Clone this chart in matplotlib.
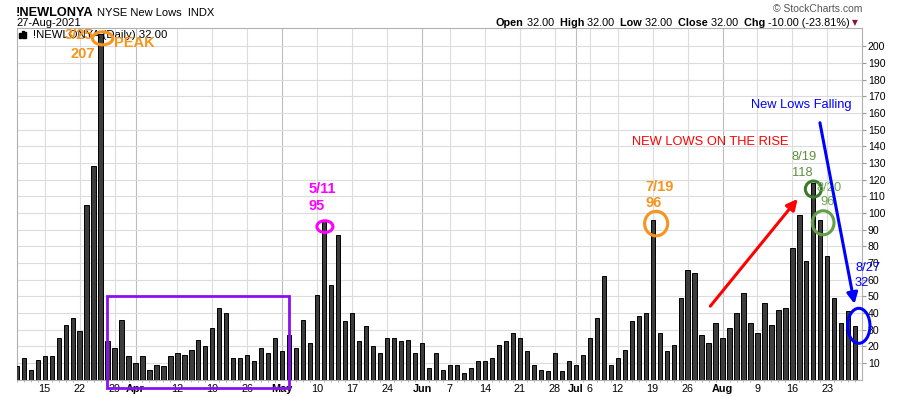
import matplotlib
matplotlib.use('Agg')
import matplotlib.pyplot as plt
from matplotlib.patches import Ellipse, Rectangle
import pandas as pd

plt.rcParams['font.family'] = ['Liberation Sans', 'DejaVu Sans']

# NYSE new lows, daily, 9 Mar .. 27 Aug 2021
new_lows = [8, 13, 6, 12, 14, 14, 25, 33, 37, 29, 105, 128, 207, 23, 19, 36, 14, 10, 14, 6,
            9, 8, 14, 16, 15, 18, 24, 20, 31, 43, 40, 13, 13, 15, 11, 19, 16, 25, 17, 27,
            19, 36, 22, 51, 95, 57, 87, 35, 40, 23, 32, 20, 16, 25, 25, 23, 24, 16, 22, 7,
            16, 6, 9, 9, 4, 7, 11, 11, 13, 21, 23, 28, 25, 17, 9, 6, 5, 16, 5, 11,
            9, 15, 25, 37, 62, 9, 13, 18, 35, 38, 40, 96, 28, 17, 21, 49, 66, 64, 27, 22,
            34, 25, 31, 40, 52, 34, 28, 46, 33, 42, 43, 79, 99, 71, 118, 96, 74, 49, 34, 41, 32]
holidays = ['2021-04-02', '2021-05-31', '2021-07-05']
tick_dates = ['2021-03-15', '2021-03-22', '2021-03-29', '2021-04-01', '2021-04-12', '2021-04-19',
              '2021-04-26', '2021-05-03', '2021-05-10', '2021-05-17', '2021-05-24', '2021-06-01',
              '2021-06-07', '2021-06-14', '2021-06-21', '2021-06-28', '2021-07-01', '2021-07-06',
              '2021-07-12', '2021-07-19', '2021-07-26', '2021-08-02', '2021-08-09', '2021-08-16',
              '2021-08-23']
tick_labels = ['15', '22', '29', 'Apr', '12', '19', '26', 'May', '10', '17', '24', 'Jun',
               '7', '14', '21', '28', 'Jul', '6', '12', '19', '26', 'Aug', '9', '16', '23']
months = ['Apr', 'May', 'Jun', 'Jul', 'Aug']

dates = pd.bdate_range('2021-03-09', '2021-08-27')
dates = dates[~dates.isin(pd.to_datetime(holidays))]
x = list(range(len(dates)))
tick_pos = [dates.get_loc(pd.Timestamp(d)) for d in tick_dates]

W, H = 900, 396
fig = plt.figure(figsize=(W / 100, H / 100), dpi=100)
ax = fig.add_axes([16.7 / W, 1 - 379.7 / H, (862.3 - 16.7) / W, (379.7 - 28.3) / H])

def ftext(px, py, s, **kw):  # text placed in figure pixels
    return fig.text(px / W, 1 - py / H, s, **kw)

ax.bar(x, new_lows, width=0.6, color='#3d3d3d', edgecolor='black', linewidth=0.7, zorder=3)
ax.set_xlim(0.2, 121.0)
ax.set_ylim(0, 210.7)

# grid
ax.set_yticks(range(10, 210, 10))
ax.yaxis.tick_right()
ax.grid(axis='y', color='#dcdcdc', lw=0.8, zorder=0)
for p, lab in zip(tick_pos, tick_labels):
    ax.axvline(p, color='#bdbdbd' if lab in months else '#dcdcdc', lw=0.8, zorder=0)
ax.set_xticks(tick_pos)
ax.set_xticklabels(tick_labels)
for t in ax.get_xticklabels():
    if t.get_text() in months:
        t.set_fontweight('bold')
ax.set_xticks(x, minor=True)
ax.tick_params(axis='x', which='major', length=0, labelsize=7.8, pad=3)
ax.tick_params(axis='x', which='minor', length=1.5, color='#aaaaaa')
ax.tick_params(axis='y', length=3, color='#999999', labelsize=7.6, pad=1)
for s in ax.spines.values():
    s.set_color('#b0b0b0')

# header
ftext(16, 13.5, '!NEWLONYA', fontsize=9.2, fontweight='bold', va='center')
ftext(97, 13.5, 'NYSE New Lows  INDX', fontsize=8, va='center')
ftext(16, 23, '27-Aug-2021', fontsize=8, va='center')
ftext(862, 9.5, '\u00a9 StockCharts.com', fontsize=7.5, color='#555555', ha='right', va='center')
r = fig.canvas.get_renderer()
cur = 496
pieces = [('Open', True), (' 32.00', False), ('  High', True), (' 32.00', False),
          ('  Low', True), (' 32.00', False), ('  Close', True), (' 32.00', False),
          ('  Chg', True), (' -10.00 (-23.81%)', False)]
for s, b in pieces:
    t = ftext(cur, 22.7, s, fontsize=7.8, fontweight='bold' if b else 'normal', va='center')
    cur += t.get_window_extent(r).width
ftext(cur + 2, 22.5, '\u25bc', fontsize=5.5, color='#8b1538', va='center', family='DejaVu Sans')

# legend line inside the plot, under the annotations
for bx, bh in [(19.3, 4.5), (21.7, 6.5), (24.1, 5.5)]:
    ax.add_patch(Rectangle((bx / W, 1 - 37.5 / H), 1.8 / W, bh / H, color='black',
                           transform=fig.transFigure, zorder=4))
ax.text(33 / W, 1 - 35 / H, '!NEWLONYA (Daily) 32.00', fontsize=8.2, va='center',
        transform=fig.transFigure, zorder=4)

# annotations
orange = '#f7941d'
ax.text(10.95, 206.5, '3/25', color=orange, fontsize=10.5, fontweight='bold', ha='right', va='center', zorder=5)
ax.text(9.5, 195.3, '207', color=orange, fontsize=10.5, fontweight='bold', ha='center', va='center', zorder=5)
ax.add_patch(Ellipse((12.3, 204.7), 2.9, 7.8, fill=False, ec=orange, lw=2.2, zorder=5, clip_on=False))
ax.text(13.96, 201.9, 'PEAK', color=orange, fontsize=10.5, fontweight='bold', ha='left', va='center', zorder=5)

ax.add_patch(Rectangle((12.9, -4.8), 26.1, 55.0, fill=False, ec='#8a10f0', lw=2.0, zorder=5, clip_on=False))

ax.text(41.8, 114.1, '5/11', color='#ff00ff', fontsize=10.5, fontweight='bold', va='center', zorder=5)
ax.text(41.8, 104.1, '95', color='#ff00ff', fontsize=10.5, fontweight='bold', va='center', zorder=5)
ax.add_patch(Ellipse((44.1, 91.8), 2.3, 7.0, fill=False, ec='#ff00ff', lw=2.2, zorder=5))

ax.text(89.96, 115.3, '7/19', color=orange, fontsize=10.5, fontweight='bold', va='center', zorder=5)
ax.text(89.96, 106.1, '96', color=orange, fontsize=10.5, fontweight='bold', va='center', zorder=5)
ax.add_patch(Ellipse((91.5, 93.6), 3.3, 14.7, fill=False, ec=orange, lw=2.2, zorder=5))

ax.text(88.06, 142.3, 'NEW LOWS ON THE RISE', color='red', fontsize=9.3, va='center', zorder=5)
ax.annotate('', xy=(112.0, 109.7), xytext=(99.0, 42.8),
            arrowprops=dict(arrowstyle='-|>', color='red', lw=2.2, mutation_scale=16), zorder=5)

ax.text(110.9, 133.3, '8/19', color='#5e8f3e', fontsize=9.3, va='center', zorder=5)
ax.text(110.9, 124.1, '118', color='#5e8f3e', fontsize=9.3, va='center', zorder=5)
ax.add_patch(Ellipse((114.0, 114.3), 2.3, 9.6, fill=False, ec='#3c7a28', lw=2.2, zorder=5))
ax.text(114.5, 115.1, '8/20', color='#6aa84f', fontsize=9.3, va='center', zorder=5)
ax.text(114.96, 106.7, '96', color='#6aa84f', fontsize=9.3, va='center', zorder=5)
ax.add_patch(Ellipse((115.4, 94.1), 3.1, 14.4, fill=False, ec='#62a048', lw=2.2, zorder=5))

ax.text(105.06, 164.7, 'New Lows Falling', color='blue', fontsize=9.3, va='center', zorder=5)
ax.annotate('', xy=(119.96, 43.8), xytext=(114.86, 155.7),
            arrowprops=dict(arrowstyle='-|>', color='blue', lw=2.2, mutation_scale=16), zorder=5)
ax.text(119.96, 66.8, '8/27', color='blue', fontsize=9.3, va='center', zorder=6, clip_on=False)
ax.text(119.96, 57.8, '32', color='blue', fontsize=9.3, va='center', zorder=6, clip_on=False)
ax.add_patch(Ellipse((120.5, 32.3), 3.2, 21.0, fill=False, ec='blue', lw=2.2, zorder=5, clip_on=False))

fig.savefig('out.png', dpi=100)
